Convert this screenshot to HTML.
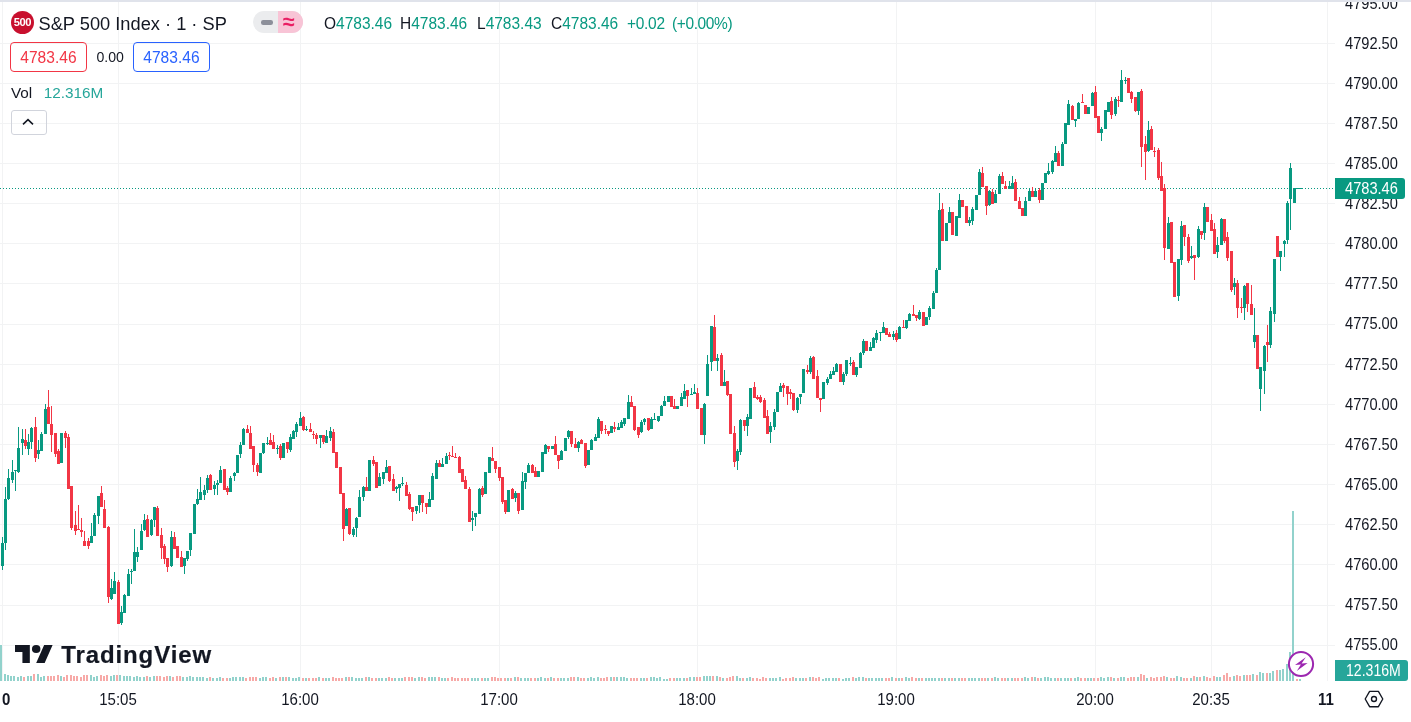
<!DOCTYPE html>
<html><head><meta charset="utf-8"><title>S&amp;P 500 Index</title>
<style>
html,body{margin:0;padding:0;background:#fff;}
body{width:1411px;height:722px;overflow:hidden;position:relative;font-family:"Liberation Sans",sans-serif;color:#131722;}
.abs{position:absolute;white-space:nowrap;}
#txt{position:absolute;left:0;top:0;width:1411px;height:722px;will-change:transform;}
.pl{position:absolute;left:1345px;height:20px;line-height:20px;font-size:16.2px;transform:scaleX(0.904);transform-origin:0 50%;white-space:nowrap;color:#131722;}
.tl{position:absolute;top:688.5px;width:60px;text-align:center;height:20px;line-height:20px;font-size:16.4px;transform:scaleX(0.917);white-space:nowrap;color:#131722;}
.b{font-weight:bold;}
.g{color:#089981;}
.ohlc{position:absolute;top:12.5px;height:20px;line-height:20px;font-size:16.2px;transform:scaleX(0.957);transform-origin:0 50%;white-space:nowrap;}
</style></head><body>
<svg width="1411" height="722" viewBox="0 0 1411 722" style="position:absolute;left:0;top:0" shape-rendering="crispEdges">
<rect x="0" y="43" width="1335" height="1" fill="#f2f3f4"/>
<rect x="0" y="83" width="1335" height="1" fill="#f2f3f4"/>
<rect x="0" y="123" width="1335" height="1" fill="#f2f3f4"/>
<rect x="0" y="163" width="1335" height="1" fill="#f2f3f4"/>
<rect x="0" y="203" width="1335" height="1" fill="#f2f3f4"/>
<rect x="0" y="243" width="1335" height="1" fill="#f2f3f4"/>
<rect x="0" y="283" width="1335" height="1" fill="#f2f3f4"/>
<rect x="0" y="324" width="1335" height="1" fill="#f2f3f4"/>
<rect x="0" y="364" width="1335" height="1" fill="#f2f3f4"/>
<rect x="0" y="404" width="1335" height="1" fill="#f2f3f4"/>
<rect x="0" y="444" width="1335" height="1" fill="#f2f3f4"/>
<rect x="0" y="484" width="1335" height="1" fill="#f2f3f4"/>
<rect x="0" y="524" width="1335" height="1" fill="#f2f3f4"/>
<rect x="0" y="564" width="1335" height="1" fill="#f2f3f4"/>
<rect x="0" y="605" width="1335" height="1" fill="#f2f3f4"/>
<rect x="0" y="645" width="1335" height="1" fill="#f2f3f4"/>
<rect x="2" y="2" width="1" height="679" fill="#f2f3f4"/>
<rect x="118" y="2" width="1" height="679" fill="#f2f3f4"/>
<rect x="300" y="2" width="1" height="679" fill="#f2f3f4"/>
<rect x="499" y="2" width="1" height="679" fill="#f2f3f4"/>
<rect x="697" y="2" width="1" height="679" fill="#f2f3f4"/>
<rect x="896" y="2" width="1" height="679" fill="#f2f3f4"/>
<rect x="1095" y="2" width="1" height="679" fill="#f2f3f4"/>
<rect x="1211" y="2" width="1" height="679" fill="#f2f3f4"/>
<rect x="1327" y="2" width="1" height="679" fill="#f2f3f4"/>
<rect x="0" y="645" width="2" height="36" fill="#92d2cc"/>
<rect x="4" y="674" width="2" height="7" fill="#92d2cc"/>
<rect x="7" y="675" width="2" height="6" fill="#92d2cc"/>
<rect x="10" y="676" width="2" height="5" fill="#92d2cc"/>
<rect x="13" y="676" width="2" height="5" fill="#92d2cc"/>
<rect x="17" y="677" width="2" height="4" fill="#92d2cc"/>
<rect x="20" y="676" width="2" height="5" fill="#92d2cc"/>
<rect x="23" y="677" width="2" height="4" fill="#f7a9a7"/>
<rect x="27" y="676" width="2" height="5" fill="#92d2cc"/>
<rect x="30" y="676" width="2" height="5" fill="#92d2cc"/>
<rect x="33" y="674" width="2" height="7" fill="#f7a9a7"/>
<rect x="37" y="674" width="2" height="7" fill="#92d2cc"/>
<rect x="40" y="677" width="2" height="4" fill="#92d2cc"/>
<rect x="43" y="676" width="2" height="5" fill="#92d2cc"/>
<rect x="47" y="676" width="2" height="5" fill="#f7a9a7"/>
<rect x="50" y="676" width="2" height="5" fill="#f7a9a7"/>
<rect x="53" y="676" width="2" height="5" fill="#f7a9a7"/>
<rect x="57" y="675" width="2" height="6" fill="#f7a9a7"/>
<rect x="60" y="676" width="2" height="5" fill="#92d2cc"/>
<rect x="63" y="677" width="2" height="4" fill="#f7a9a7"/>
<rect x="66" y="675" width="2" height="6" fill="#f7a9a7"/>
<rect x="70" y="675" width="2" height="6" fill="#f7a9a7"/>
<rect x="73" y="676" width="2" height="5" fill="#f7a9a7"/>
<rect x="76" y="676" width="2" height="5" fill="#f7a9a7"/>
<rect x="80" y="677" width="2" height="4" fill="#f7a9a7"/>
<rect x="83" y="675" width="2" height="6" fill="#f7a9a7"/>
<rect x="86" y="675" width="2" height="6" fill="#f7a9a7"/>
<rect x="90" y="675" width="2" height="6" fill="#92d2cc"/>
<rect x="93" y="677" width="2" height="4" fill="#92d2cc"/>
<rect x="96" y="676" width="2" height="5" fill="#92d2cc"/>
<rect x="100" y="675" width="2" height="6" fill="#f7a9a7"/>
<rect x="103" y="676" width="2" height="5" fill="#f7a9a7"/>
<rect x="106" y="675" width="2" height="6" fill="#f7a9a7"/>
<rect x="110" y="676" width="2" height="5" fill="#92d2cc"/>
<rect x="113" y="675" width="2" height="6" fill="#92d2cc"/>
<rect x="116" y="675" width="2" height="6" fill="#f7a9a7"/>
<rect x="119" y="675" width="2" height="6" fill="#92d2cc"/>
<rect x="123" y="676" width="2" height="5" fill="#92d2cc"/>
<rect x="126" y="676" width="2" height="5" fill="#92d2cc"/>
<rect x="129" y="676" width="2" height="5" fill="#92d2cc"/>
<rect x="133" y="677" width="2" height="4" fill="#92d2cc"/>
<rect x="136" y="676" width="2" height="5" fill="#92d2cc"/>
<rect x="139" y="677" width="2" height="4" fill="#92d2cc"/>
<rect x="143" y="677" width="2" height="4" fill="#92d2cc"/>
<rect x="146" y="676" width="2" height="5" fill="#f7a9a7"/>
<rect x="149" y="677" width="2" height="4" fill="#92d2cc"/>
<rect x="153" y="676" width="2" height="5" fill="#92d2cc"/>
<rect x="156" y="676" width="2" height="5" fill="#f7a9a7"/>
<rect x="159" y="676" width="2" height="5" fill="#f7a9a7"/>
<rect x="163" y="677" width="2" height="4" fill="#f7a9a7"/>
<rect x="166" y="676" width="2" height="5" fill="#f7a9a7"/>
<rect x="169" y="676" width="2" height="5" fill="#92d2cc"/>
<rect x="172" y="677" width="2" height="4" fill="#f7a9a7"/>
<rect x="176" y="676" width="2" height="5" fill="#f7a9a7"/>
<rect x="179" y="676" width="2" height="5" fill="#f7a9a7"/>
<rect x="182" y="677" width="2" height="4" fill="#92d2cc"/>
<rect x="186" y="677" width="2" height="4" fill="#92d2cc"/>
<rect x="189" y="676" width="2" height="5" fill="#92d2cc"/>
<rect x="192" y="677" width="2" height="4" fill="#92d2cc"/>
<rect x="196" y="677" width="2" height="4" fill="#92d2cc"/>
<rect x="199" y="677" width="2" height="4" fill="#92d2cc"/>
<rect x="202" y="677" width="2" height="4" fill="#92d2cc"/>
<rect x="206" y="678" width="2" height="3" fill="#92d2cc"/>
<rect x="209" y="677" width="2" height="4" fill="#f7a9a7"/>
<rect x="212" y="678" width="2" height="3" fill="#92d2cc"/>
<rect x="216" y="678" width="2" height="3" fill="#92d2cc"/>
<rect x="219" y="677" width="2" height="4" fill="#92d2cc"/>
<rect x="222" y="678" width="2" height="3" fill="#f7a9a7"/>
<rect x="226" y="678" width="2" height="3" fill="#f7a9a7"/>
<rect x="229" y="678" width="2" height="3" fill="#92d2cc"/>
<rect x="232" y="677" width="2" height="4" fill="#92d2cc"/>
<rect x="235" y="677" width="2" height="4" fill="#92d2cc"/>
<rect x="239" y="677" width="2" height="4" fill="#92d2cc"/>
<rect x="242" y="677" width="2" height="4" fill="#92d2cc"/>
<rect x="245" y="678" width="2" height="3" fill="#f7a9a7"/>
<rect x="249" y="677" width="2" height="4" fill="#f7a9a7"/>
<rect x="252" y="677" width="2" height="4" fill="#f7a9a7"/>
<rect x="255" y="677" width="2" height="4" fill="#f7a9a7"/>
<rect x="259" y="678" width="2" height="3" fill="#92d2cc"/>
<rect x="262" y="677" width="2" height="4" fill="#92d2cc"/>
<rect x="265" y="677" width="2" height="4" fill="#92d2cc"/>
<rect x="269" y="678" width="2" height="3" fill="#f7a9a7"/>
<rect x="272" y="677" width="2" height="4" fill="#f7a9a7"/>
<rect x="275" y="678" width="2" height="3" fill="#92d2cc"/>
<rect x="279" y="677" width="2" height="4" fill="#f7a9a7"/>
<rect x="282" y="677" width="2" height="4" fill="#92d2cc"/>
<rect x="285" y="677" width="2" height="4" fill="#f7a9a7"/>
<rect x="288" y="677" width="2" height="4" fill="#92d2cc"/>
<rect x="292" y="678" width="2" height="3" fill="#92d2cc"/>
<rect x="295" y="678" width="2" height="3" fill="#92d2cc"/>
<rect x="298" y="677" width="2" height="4" fill="#92d2cc"/>
<rect x="302" y="678" width="2" height="3" fill="#f7a9a7"/>
<rect x="305" y="678" width="2" height="3" fill="#92d2cc"/>
<rect x="308" y="678" width="2" height="3" fill="#f7a9a7"/>
<rect x="312" y="678" width="2" height="3" fill="#f7a9a7"/>
<rect x="315" y="678" width="2" height="3" fill="#f7a9a7"/>
<rect x="318" y="677" width="2" height="4" fill="#92d2cc"/>
<rect x="322" y="678" width="2" height="3" fill="#f7a9a7"/>
<rect x="325" y="678" width="2" height="3" fill="#92d2cc"/>
<rect x="328" y="678" width="2" height="3" fill="#92d2cc"/>
<rect x="332" y="677" width="2" height="4" fill="#f7a9a7"/>
<rect x="335" y="678" width="2" height="3" fill="#f7a9a7"/>
<rect x="338" y="678" width="2" height="3" fill="#f7a9a7"/>
<rect x="341" y="678" width="2" height="3" fill="#f7a9a7"/>
<rect x="345" y="677" width="2" height="4" fill="#92d2cc"/>
<rect x="348" y="677" width="2" height="4" fill="#f7a9a7"/>
<rect x="351" y="677" width="2" height="4" fill="#92d2cc"/>
<rect x="355" y="678" width="2" height="3" fill="#92d2cc"/>
<rect x="358" y="678" width="2" height="3" fill="#92d2cc"/>
<rect x="361" y="678" width="2" height="3" fill="#92d2cc"/>
<rect x="365" y="677" width="2" height="4" fill="#f7a9a7"/>
<rect x="368" y="677" width="2" height="4" fill="#92d2cc"/>
<rect x="371" y="678" width="2" height="3" fill="#f7a9a7"/>
<rect x="375" y="678" width="2" height="3" fill="#f7a9a7"/>
<rect x="378" y="678" width="2" height="3" fill="#92d2cc"/>
<rect x="381" y="678" width="2" height="3" fill="#92d2cc"/>
<rect x="385" y="678" width="2" height="3" fill="#92d2cc"/>
<rect x="388" y="677" width="2" height="4" fill="#f7a9a7"/>
<rect x="391" y="678" width="2" height="3" fill="#f7a9a7"/>
<rect x="394" y="678" width="2" height="3" fill="#92d2cc"/>
<rect x="398" y="678" width="2" height="3" fill="#92d2cc"/>
<rect x="401" y="678" width="2" height="3" fill="#92d2cc"/>
<rect x="404" y="677" width="2" height="4" fill="#f7a9a7"/>
<rect x="408" y="677" width="2" height="4" fill="#f7a9a7"/>
<rect x="411" y="677" width="2" height="4" fill="#f7a9a7"/>
<rect x="414" y="678" width="2" height="3" fill="#92d2cc"/>
<rect x="418" y="677" width="2" height="4" fill="#92d2cc"/>
<rect x="421" y="677" width="2" height="4" fill="#f7a9a7"/>
<rect x="424" y="678" width="2" height="3" fill="#f7a9a7"/>
<rect x="428" y="677" width="2" height="4" fill="#92d2cc"/>
<rect x="431" y="677" width="2" height="4" fill="#92d2cc"/>
<rect x="434" y="677" width="2" height="4" fill="#92d2cc"/>
<rect x="438" y="677" width="2" height="4" fill="#f7a9a7"/>
<rect x="441" y="678" width="2" height="3" fill="#92d2cc"/>
<rect x="444" y="678" width="2" height="3" fill="#92d2cc"/>
<rect x="447" y="678" width="2" height="3" fill="#f7a9a7"/>
<rect x="451" y="677" width="2" height="4" fill="#f7a9a7"/>
<rect x="454" y="678" width="2" height="3" fill="#f7a9a7"/>
<rect x="457" y="678" width="2" height="3" fill="#f7a9a7"/>
<rect x="461" y="678" width="2" height="3" fill="#f7a9a7"/>
<rect x="464" y="678" width="2" height="3" fill="#f7a9a7"/>
<rect x="467" y="678" width="2" height="3" fill="#f7a9a7"/>
<rect x="471" y="678" width="2" height="3" fill="#92d2cc"/>
<rect x="474" y="678" width="2" height="3" fill="#92d2cc"/>
<rect x="477" y="678" width="2" height="3" fill="#92d2cc"/>
<rect x="481" y="678" width="2" height="3" fill="#f7a9a7"/>
<rect x="484" y="678" width="2" height="3" fill="#92d2cc"/>
<rect x="487" y="678" width="2" height="3" fill="#92d2cc"/>
<rect x="491" y="677" width="2" height="4" fill="#f7a9a7"/>
<rect x="494" y="677" width="2" height="4" fill="#f7a9a7"/>
<rect x="497" y="678" width="2" height="3" fill="#f7a9a7"/>
<rect x="500" y="678" width="2" height="3" fill="#f7a9a7"/>
<rect x="504" y="678" width="2" height="3" fill="#f7a9a7"/>
<rect x="507" y="678" width="2" height="3" fill="#92d2cc"/>
<rect x="510" y="678" width="2" height="3" fill="#f7a9a7"/>
<rect x="514" y="677" width="2" height="4" fill="#92d2cc"/>
<rect x="517" y="677" width="2" height="4" fill="#f7a9a7"/>
<rect x="520" y="678" width="2" height="3" fill="#92d2cc"/>
<rect x="524" y="678" width="2" height="3" fill="#92d2cc"/>
<rect x="527" y="678" width="2" height="3" fill="#92d2cc"/>
<rect x="530" y="678" width="2" height="3" fill="#f7a9a7"/>
<rect x="534" y="678" width="2" height="3" fill="#f7a9a7"/>
<rect x="537" y="678" width="2" height="3" fill="#92d2cc"/>
<rect x="540" y="677" width="2" height="4" fill="#92d2cc"/>
<rect x="544" y="678" width="2" height="3" fill="#92d2cc"/>
<rect x="547" y="678" width="2" height="3" fill="#f7a9a7"/>
<rect x="550" y="677" width="2" height="4" fill="#92d2cc"/>
<rect x="553" y="678" width="2" height="3" fill="#f7a9a7"/>
<rect x="557" y="678" width="2" height="3" fill="#f7a9a7"/>
<rect x="560" y="678" width="2" height="3" fill="#92d2cc"/>
<rect x="563" y="678" width="2" height="3" fill="#92d2cc"/>
<rect x="567" y="678" width="2" height="3" fill="#92d2cc"/>
<rect x="570" y="677" width="2" height="4" fill="#f7a9a7"/>
<rect x="573" y="677" width="2" height="4" fill="#f7a9a7"/>
<rect x="577" y="677" width="2" height="4" fill="#92d2cc"/>
<rect x="580" y="678" width="2" height="3" fill="#f7a9a7"/>
<rect x="583" y="678" width="2" height="3" fill="#f7a9a7"/>
<rect x="587" y="678" width="2" height="3" fill="#92d2cc"/>
<rect x="590" y="677" width="2" height="4" fill="#92d2cc"/>
<rect x="593" y="678" width="2" height="3" fill="#92d2cc"/>
<rect x="597" y="677" width="2" height="4" fill="#92d2cc"/>
<rect x="600" y="678" width="2" height="3" fill="#f7a9a7"/>
<rect x="603" y="678" width="2" height="3" fill="#f7a9a7"/>
<rect x="606" y="677" width="2" height="4" fill="#f7a9a7"/>
<rect x="610" y="677" width="2" height="4" fill="#92d2cc"/>
<rect x="613" y="677" width="2" height="4" fill="#f7a9a7"/>
<rect x="616" y="677" width="2" height="4" fill="#92d2cc"/>
<rect x="620" y="677" width="2" height="4" fill="#92d2cc"/>
<rect x="623" y="677" width="2" height="4" fill="#92d2cc"/>
<rect x="626" y="678" width="2" height="3" fill="#92d2cc"/>
<rect x="630" y="678" width="2" height="3" fill="#f7a9a7"/>
<rect x="633" y="678" width="2" height="3" fill="#f7a9a7"/>
<rect x="636" y="678" width="2" height="3" fill="#f7a9a7"/>
<rect x="640" y="678" width="2" height="3" fill="#92d2cc"/>
<rect x="643" y="678" width="2" height="3" fill="#92d2cc"/>
<rect x="646" y="678" width="2" height="3" fill="#f7a9a7"/>
<rect x="650" y="677" width="2" height="4" fill="#92d2cc"/>
<rect x="653" y="677" width="2" height="4" fill="#92d2cc"/>
<rect x="656" y="678" width="2" height="3" fill="#92d2cc"/>
<rect x="659" y="677" width="2" height="4" fill="#92d2cc"/>
<rect x="663" y="679" width="2" height="2" fill="#92d2cc"/>
<rect x="666" y="679" width="2" height="2" fill="#92d2cc"/>
<rect x="669" y="678" width="2" height="3" fill="#f7a9a7"/>
<rect x="673" y="678" width="2" height="3" fill="#f7a9a7"/>
<rect x="676" y="678" width="2" height="3" fill="#92d2cc"/>
<rect x="679" y="678" width="2" height="3" fill="#92d2cc"/>
<rect x="683" y="678" width="2" height="3" fill="#92d2cc"/>
<rect x="686" y="678" width="2" height="3" fill="#f7a9a7"/>
<rect x="689" y="677" width="2" height="4" fill="#92d2cc"/>
<rect x="693" y="677" width="2" height="4" fill="#92d2cc"/>
<rect x="696" y="677" width="2" height="4" fill="#f7a9a7"/>
<rect x="699" y="677" width="2" height="4" fill="#f7a9a7"/>
<rect x="703" y="676" width="2" height="5" fill="#92d2cc"/>
<rect x="706" y="676" width="2" height="5" fill="#92d2cc"/>
<rect x="709" y="676" width="2" height="5" fill="#92d2cc"/>
<rect x="712" y="676" width="2" height="5" fill="#f7a9a7"/>
<rect x="716" y="676" width="2" height="5" fill="#92d2cc"/>
<rect x="719" y="677" width="2" height="4" fill="#f7a9a7"/>
<rect x="722" y="678" width="2" height="3" fill="#92d2cc"/>
<rect x="726" y="678" width="2" height="3" fill="#f7a9a7"/>
<rect x="729" y="677" width="2" height="4" fill="#f7a9a7"/>
<rect x="732" y="676" width="2" height="5" fill="#f7a9a7"/>
<rect x="736" y="676" width="2" height="5" fill="#92d2cc"/>
<rect x="739" y="678" width="2" height="3" fill="#92d2cc"/>
<rect x="742" y="678" width="2" height="3" fill="#f7a9a7"/>
<rect x="746" y="678" width="2" height="3" fill="#92d2cc"/>
<rect x="749" y="677" width="2" height="4" fill="#92d2cc"/>
<rect x="752" y="678" width="2" height="3" fill="#f7a9a7"/>
<rect x="756" y="678" width="2" height="3" fill="#f7a9a7"/>
<rect x="759" y="679" width="2" height="2" fill="#f7a9a7"/>
<rect x="762" y="677" width="2" height="4" fill="#f7a9a7"/>
<rect x="765" y="678" width="2" height="3" fill="#f7a9a7"/>
<rect x="769" y="678" width="2" height="3" fill="#92d2cc"/>
<rect x="772" y="678" width="2" height="3" fill="#92d2cc"/>
<rect x="775" y="678" width="2" height="3" fill="#92d2cc"/>
<rect x="779" y="677" width="2" height="4" fill="#92d2cc"/>
<rect x="782" y="679" width="2" height="2" fill="#f7a9a7"/>
<rect x="785" y="678" width="2" height="3" fill="#f7a9a7"/>
<rect x="789" y="678" width="2" height="3" fill="#f7a9a7"/>
<rect x="792" y="677" width="2" height="4" fill="#f7a9a7"/>
<rect x="795" y="678" width="2" height="3" fill="#92d2cc"/>
<rect x="799" y="678" width="2" height="3" fill="#92d2cc"/>
<rect x="802" y="678" width="2" height="3" fill="#92d2cc"/>
<rect x="805" y="678" width="2" height="3" fill="#f7a9a7"/>
<rect x="809" y="677" width="2" height="4" fill="#92d2cc"/>
<rect x="812" y="677" width="2" height="4" fill="#f7a9a7"/>
<rect x="815" y="678" width="2" height="3" fill="#f7a9a7"/>
<rect x="818" y="677" width="2" height="4" fill="#f7a9a7"/>
<rect x="822" y="679" width="2" height="2" fill="#92d2cc"/>
<rect x="825" y="678" width="2" height="3" fill="#92d2cc"/>
<rect x="828" y="678" width="2" height="3" fill="#92d2cc"/>
<rect x="832" y="678" width="2" height="3" fill="#92d2cc"/>
<rect x="835" y="678" width="2" height="3" fill="#92d2cc"/>
<rect x="838" y="678" width="2" height="3" fill="#f7a9a7"/>
<rect x="842" y="679" width="2" height="2" fill="#92d2cc"/>
<rect x="845" y="678" width="2" height="3" fill="#92d2cc"/>
<rect x="848" y="678" width="2" height="3" fill="#92d2cc"/>
<rect x="852" y="677" width="2" height="4" fill="#f7a9a7"/>
<rect x="855" y="678" width="2" height="3" fill="#92d2cc"/>
<rect x="858" y="677" width="2" height="4" fill="#92d2cc"/>
<rect x="862" y="677" width="2" height="4" fill="#92d2cc"/>
<rect x="865" y="678" width="2" height="3" fill="#f7a9a7"/>
<rect x="868" y="678" width="2" height="3" fill="#92d2cc"/>
<rect x="871" y="678" width="2" height="3" fill="#92d2cc"/>
<rect x="875" y="678" width="2" height="3" fill="#92d2cc"/>
<rect x="878" y="678" width="2" height="3" fill="#92d2cc"/>
<rect x="881" y="678" width="2" height="3" fill="#92d2cc"/>
<rect x="885" y="678" width="2" height="3" fill="#f7a9a7"/>
<rect x="888" y="678" width="2" height="3" fill="#f7a9a7"/>
<rect x="891" y="677" width="2" height="4" fill="#92d2cc"/>
<rect x="895" y="678" width="2" height="3" fill="#f7a9a7"/>
<rect x="898" y="678" width="2" height="3" fill="#92d2cc"/>
<rect x="901" y="678" width="2" height="3" fill="#f7a9a7"/>
<rect x="905" y="677" width="2" height="4" fill="#92d2cc"/>
<rect x="908" y="678" width="2" height="3" fill="#92d2cc"/>
<rect x="911" y="677" width="2" height="4" fill="#f7a9a7"/>
<rect x="915" y="678" width="2" height="3" fill="#f7a9a7"/>
<rect x="918" y="678" width="2" height="3" fill="#92d2cc"/>
<rect x="921" y="678" width="2" height="3" fill="#f7a9a7"/>
<rect x="925" y="678" width="2" height="3" fill="#92d2cc"/>
<rect x="928" y="678" width="2" height="3" fill="#92d2cc"/>
<rect x="931" y="678" width="2" height="3" fill="#92d2cc"/>
<rect x="934" y="678" width="2" height="3" fill="#92d2cc"/>
<rect x="938" y="678" width="2" height="3" fill="#92d2cc"/>
<rect x="941" y="678" width="2" height="3" fill="#f7a9a7"/>
<rect x="944" y="678" width="2" height="3" fill="#92d2cc"/>
<rect x="948" y="678" width="2" height="3" fill="#92d2cc"/>
<rect x="951" y="678" width="2" height="3" fill="#f7a9a7"/>
<rect x="954" y="678" width="2" height="3" fill="#92d2cc"/>
<rect x="958" y="678" width="2" height="3" fill="#92d2cc"/>
<rect x="961" y="678" width="2" height="3" fill="#f7a9a7"/>
<rect x="964" y="678" width="2" height="3" fill="#f7a9a7"/>
<rect x="968" y="678" width="2" height="3" fill="#92d2cc"/>
<rect x="971" y="678" width="2" height="3" fill="#92d2cc"/>
<rect x="974" y="678" width="2" height="3" fill="#92d2cc"/>
<rect x="978" y="678" width="2" height="3" fill="#92d2cc"/>
<rect x="981" y="678" width="2" height="3" fill="#f7a9a7"/>
<rect x="984" y="678" width="2" height="3" fill="#f7a9a7"/>
<rect x="987" y="678" width="2" height="3" fill="#92d2cc"/>
<rect x="991" y="678" width="2" height="3" fill="#f7a9a7"/>
<rect x="994" y="677" width="2" height="4" fill="#92d2cc"/>
<rect x="997" y="678" width="2" height="3" fill="#92d2cc"/>
<rect x="1001" y="678" width="2" height="3" fill="#f7a9a7"/>
<rect x="1004" y="678" width="2" height="3" fill="#f7a9a7"/>
<rect x="1007" y="678" width="2" height="3" fill="#92d2cc"/>
<rect x="1011" y="678" width="2" height="3" fill="#92d2cc"/>
<rect x="1014" y="678" width="2" height="3" fill="#f7a9a7"/>
<rect x="1017" y="678" width="2" height="3" fill="#f7a9a7"/>
<rect x="1021" y="678" width="2" height="3" fill="#f7a9a7"/>
<rect x="1024" y="677" width="2" height="4" fill="#92d2cc"/>
<rect x="1027" y="678" width="2" height="3" fill="#92d2cc"/>
<rect x="1031" y="677" width="2" height="4" fill="#f7a9a7"/>
<rect x="1034" y="677" width="2" height="4" fill="#92d2cc"/>
<rect x="1037" y="678" width="2" height="3" fill="#f7a9a7"/>
<rect x="1040" y="678" width="2" height="3" fill="#92d2cc"/>
<rect x="1044" y="677" width="2" height="4" fill="#92d2cc"/>
<rect x="1047" y="677" width="2" height="4" fill="#92d2cc"/>
<rect x="1050" y="678" width="2" height="3" fill="#92d2cc"/>
<rect x="1054" y="678" width="2" height="3" fill="#92d2cc"/>
<rect x="1057" y="678" width="2" height="3" fill="#f7a9a7"/>
<rect x="1060" y="678" width="2" height="3" fill="#92d2cc"/>
<rect x="1064" y="678" width="2" height="3" fill="#92d2cc"/>
<rect x="1067" y="678" width="2" height="3" fill="#92d2cc"/>
<rect x="1070" y="678" width="2" height="3" fill="#f7a9a7"/>
<rect x="1074" y="678" width="2" height="3" fill="#92d2cc"/>
<rect x="1077" y="677" width="2" height="4" fill="#92d2cc"/>
<rect x="1080" y="678" width="2" height="3" fill="#f7a9a7"/>
<rect x="1084" y="678" width="2" height="3" fill="#f7a9a7"/>
<rect x="1087" y="678" width="2" height="3" fill="#92d2cc"/>
<rect x="1090" y="678" width="2" height="3" fill="#92d2cc"/>
<rect x="1093" y="678" width="2" height="3" fill="#f7a9a7"/>
<rect x="1097" y="678" width="2" height="3" fill="#f7a9a7"/>
<rect x="1100" y="677" width="2" height="4" fill="#92d2cc"/>
<rect x="1103" y="678" width="2" height="3" fill="#92d2cc"/>
<rect x="1107" y="677" width="2" height="4" fill="#92d2cc"/>
<rect x="1110" y="677" width="2" height="4" fill="#f7a9a7"/>
<rect x="1113" y="678" width="2" height="3" fill="#92d2cc"/>
<rect x="1117" y="678" width="2" height="3" fill="#f7a9a7"/>
<rect x="1120" y="677" width="2" height="4" fill="#92d2cc"/>
<rect x="1123" y="677" width="2" height="4" fill="#92d2cc"/>
<rect x="1127" y="678" width="2" height="3" fill="#f7a9a7"/>
<rect x="1130" y="677" width="2" height="4" fill="#f7a9a7"/>
<rect x="1133" y="677" width="2" height="4" fill="#f7a9a7"/>
<rect x="1137" y="677" width="2" height="4" fill="#92d2cc"/>
<rect x="1140" y="674" width="2" height="7" fill="#f7a9a7"/>
<rect x="1143" y="675" width="2" height="6" fill="#f7a9a7"/>
<rect x="1146" y="678" width="2" height="3" fill="#92d2cc"/>
<rect x="1150" y="677" width="2" height="4" fill="#f7a9a7"/>
<rect x="1153" y="678" width="2" height="3" fill="#f7a9a7"/>
<rect x="1156" y="677" width="2" height="4" fill="#f7a9a7"/>
<rect x="1160" y="677" width="2" height="4" fill="#f7a9a7"/>
<rect x="1163" y="676" width="2" height="5" fill="#f7a9a7"/>
<rect x="1166" y="677" width="2" height="4" fill="#92d2cc"/>
<rect x="1170" y="678" width="2" height="3" fill="#f7a9a7"/>
<rect x="1173" y="678" width="2" height="3" fill="#f7a9a7"/>
<rect x="1176" y="676" width="2" height="5" fill="#92d2cc"/>
<rect x="1180" y="677" width="2" height="4" fill="#92d2cc"/>
<rect x="1183" y="678" width="2" height="3" fill="#f7a9a7"/>
<rect x="1186" y="678" width="2" height="3" fill="#f7a9a7"/>
<rect x="1190" y="678" width="2" height="3" fill="#92d2cc"/>
<rect x="1193" y="676" width="2" height="5" fill="#f7a9a7"/>
<rect x="1196" y="677" width="2" height="4" fill="#92d2cc"/>
<rect x="1199" y="677" width="2" height="4" fill="#f7a9a7"/>
<rect x="1203" y="676" width="2" height="5" fill="#92d2cc"/>
<rect x="1206" y="677" width="2" height="4" fill="#f7a9a7"/>
<rect x="1209" y="678" width="2" height="3" fill="#f7a9a7"/>
<rect x="1213" y="676" width="2" height="5" fill="#f7a9a7"/>
<rect x="1216" y="677" width="2" height="4" fill="#92d2cc"/>
<rect x="1219" y="677" width="2" height="4" fill="#92d2cc"/>
<rect x="1223" y="675" width="2" height="6" fill="#f7a9a7"/>
<rect x="1226" y="673" width="2" height="8" fill="#f7a9a7"/>
<rect x="1229" y="677" width="2" height="4" fill="#f7a9a7"/>
<rect x="1233" y="676" width="2" height="5" fill="#92d2cc"/>
<rect x="1236" y="675" width="2" height="6" fill="#f7a9a7"/>
<rect x="1239" y="676" width="2" height="5" fill="#f7a9a7"/>
<rect x="1243" y="675" width="2" height="6" fill="#92d2cc"/>
<rect x="1246" y="675" width="2" height="6" fill="#f7a9a7"/>
<rect x="1249" y="675" width="2" height="6" fill="#f7a9a7"/>
<rect x="1252" y="674" width="2" height="7" fill="#92d2cc"/>
<rect x="1256" y="675" width="2" height="6" fill="#f7a9a7"/>
<rect x="1259" y="672" width="2" height="9" fill="#92d2cc"/>
<rect x="1262" y="673" width="2" height="8" fill="#92d2cc"/>
<rect x="1266" y="673" width="2" height="8" fill="#f7a9a7"/>
<rect x="1269" y="673" width="2" height="8" fill="#92d2cc"/>
<rect x="1272" y="671" width="2" height="10" fill="#92d2cc"/>
<rect x="1276" y="670" width="2" height="11" fill="#f7a9a7"/>
<rect x="1279" y="670" width="2" height="11" fill="#92d2cc"/>
<rect x="1282" y="669" width="2" height="12" fill="#92d2cc"/>
<rect x="1286" y="664" width="2" height="17" fill="#92d2cc"/>
<rect x="1289" y="652" width="2" height="29" fill="#92d2cc"/>
<rect x="1292" y="511" width="2" height="170" fill="#92d2cc"/>
<rect x="1296" y="679" width="2" height="2" fill="#f7a9a7"/>
<rect x="1299" y="679" width="2" height="2" fill="#92d2cc"/>
<line x1="0" y1="188.5" x2="1335" y2="188.5" stroke="#089981" stroke-width="1" stroke-dasharray="1 2"/>
<rect x="2" y="537" width="1" height="33" fill="#089981"/>
<rect x="1" y="543" width="3" height="23" fill="#089981"/>
<rect x="5" y="487" width="1" height="63" fill="#089981"/>
<rect x="4" y="499" width="3" height="44" fill="#089981"/>
<rect x="8" y="469" width="1" height="31" fill="#089981"/>
<rect x="7" y="478" width="3" height="21" fill="#089981"/>
<rect x="12" y="460" width="1" height="23" fill="#089981"/>
<rect x="11" y="472" width="3" height="8" fill="#089981"/>
<rect x="15" y="470" width="1" height="21" fill="#089981"/>
<rect x="14" y="470" width="3" height="1" fill="#089981"/>
<rect x="18" y="427" width="1" height="46" fill="#089981"/>
<rect x="17" y="448" width="3" height="24" fill="#089981"/>
<rect x="22" y="429" width="1" height="26" fill="#089981"/>
<rect x="21" y="439" width="3" height="4" fill="#089981"/>
<rect x="25" y="429" width="1" height="20" fill="#f23645"/>
<rect x="24" y="440" width="3" height="6" fill="#f23645"/>
<rect x="28" y="434" width="1" height="21" fill="#089981"/>
<rect x="27" y="442" width="3" height="7" fill="#089981"/>
<rect x="31" y="427" width="1" height="22" fill="#089981"/>
<rect x="30" y="428" width="3" height="14" fill="#089981"/>
<rect x="35" y="417" width="1" height="45" fill="#f23645"/>
<rect x="34" y="427" width="3" height="31" fill="#f23645"/>
<rect x="38" y="440" width="1" height="19" fill="#089981"/>
<rect x="37" y="450" width="3" height="4" fill="#089981"/>
<rect x="41" y="432" width="1" height="19" fill="#089981"/>
<rect x="40" y="434" width="3" height="17" fill="#089981"/>
<rect x="45" y="404" width="1" height="30" fill="#089981"/>
<rect x="44" y="409" width="3" height="25" fill="#089981"/>
<rect x="48" y="390" width="1" height="34" fill="#f23645"/>
<rect x="47" y="407" width="3" height="17" fill="#f23645"/>
<rect x="51" y="406" width="1" height="46" fill="#f23645"/>
<rect x="50" y="424" width="3" height="11" fill="#f23645"/>
<rect x="55" y="433" width="1" height="24" fill="#f23645"/>
<rect x="54" y="433" width="3" height="21" fill="#f23645"/>
<rect x="58" y="449" width="1" height="15" fill="#f23645"/>
<rect x="57" y="451" width="3" height="13" fill="#f23645"/>
<rect x="60" y="433" width="3" height="30" fill="#089981"/>
<rect x="65" y="431" width="1" height="17" fill="#f23645"/>
<rect x="64" y="433" width="3" height="5" fill="#f23645"/>
<rect x="68" y="434" width="1" height="55" fill="#f23645"/>
<rect x="67" y="437" width="3" height="52" fill="#f23645"/>
<rect x="71" y="486" width="1" height="44" fill="#f23645"/>
<rect x="70" y="486" width="3" height="42" fill="#f23645"/>
<rect x="75" y="511" width="1" height="24" fill="#f23645"/>
<rect x="74" y="525" width="3" height="6" fill="#f23645"/>
<rect x="78" y="505" width="1" height="25" fill="#f23645"/>
<rect x="77" y="529" width="3" height="1" fill="#f23645"/>
<rect x="81" y="518" width="1" height="19" fill="#f23645"/>
<rect x="80" y="530" width="3" height="2" fill="#f23645"/>
<rect x="84" y="531" width="1" height="15" fill="#f23645"/>
<rect x="83" y="541" width="3" height="5" fill="#f23645"/>
<rect x="88" y="538" width="1" height="11" fill="#f23645"/>
<rect x="87" y="541" width="3" height="5" fill="#f23645"/>
<rect x="91" y="523" width="1" height="20" fill="#089981"/>
<rect x="90" y="536" width="3" height="7" fill="#089981"/>
<rect x="94" y="513" width="1" height="23" fill="#089981"/>
<rect x="93" y="515" width="3" height="21" fill="#089981"/>
<rect x="98" y="496" width="1" height="28" fill="#089981"/>
<rect x="97" y="496" width="3" height="20" fill="#089981"/>
<rect x="101" y="486" width="1" height="21" fill="#f23645"/>
<rect x="100" y="493" width="3" height="14" fill="#f23645"/>
<rect x="104" y="500" width="1" height="28" fill="#f23645"/>
<rect x="103" y="509" width="3" height="19" fill="#f23645"/>
<rect x="108" y="526" width="1" height="77" fill="#f23645"/>
<rect x="107" y="527" width="3" height="70" fill="#f23645"/>
<rect x="111" y="579" width="1" height="21" fill="#089981"/>
<rect x="110" y="588" width="3" height="11" fill="#089981"/>
<rect x="114" y="572" width="1" height="22" fill="#089981"/>
<rect x="113" y="581" width="3" height="13" fill="#089981"/>
<rect x="118" y="580" width="1" height="44" fill="#f23645"/>
<rect x="117" y="582" width="3" height="42" fill="#f23645"/>
<rect x="121" y="606" width="1" height="19" fill="#089981"/>
<rect x="120" y="612" width="3" height="11" fill="#089981"/>
<rect x="124" y="594" width="1" height="19" fill="#089981"/>
<rect x="123" y="595" width="3" height="18" fill="#089981"/>
<rect x="128" y="569" width="1" height="27" fill="#089981"/>
<rect x="127" y="574" width="3" height="22" fill="#089981"/>
<rect x="131" y="569" width="1" height="15" fill="#089981"/>
<rect x="130" y="571" width="3" height="1" fill="#089981"/>
<rect x="134" y="529" width="1" height="42" fill="#089981"/>
<rect x="133" y="552" width="3" height="19" fill="#089981"/>
<rect x="137" y="547" width="1" height="15" fill="#089981"/>
<rect x="136" y="552" width="3" height="5" fill="#089981"/>
<rect x="141" y="524" width="1" height="26" fill="#089981"/>
<rect x="140" y="531" width="3" height="19" fill="#089981"/>
<rect x="144" y="514" width="1" height="17" fill="#089981"/>
<rect x="143" y="520" width="3" height="10" fill="#089981"/>
<rect x="147" y="515" width="1" height="22" fill="#f23645"/>
<rect x="146" y="519" width="3" height="18" fill="#f23645"/>
<rect x="151" y="519" width="1" height="17" fill="#089981"/>
<rect x="150" y="520" width="3" height="15" fill="#089981"/>
<rect x="154" y="507" width="1" height="20" fill="#089981"/>
<rect x="153" y="507" width="3" height="13" fill="#089981"/>
<rect x="157" y="506" width="1" height="30" fill="#f23645"/>
<rect x="156" y="508" width="3" height="28" fill="#f23645"/>
<rect x="161" y="528" width="1" height="31" fill="#f23645"/>
<rect x="160" y="535" width="3" height="13" fill="#f23645"/>
<rect x="164" y="544" width="1" height="20" fill="#f23645"/>
<rect x="163" y="546" width="3" height="13" fill="#f23645"/>
<rect x="167" y="558" width="1" height="14" fill="#f23645"/>
<rect x="166" y="558" width="3" height="9" fill="#f23645"/>
<rect x="171" y="531" width="1" height="36" fill="#089981"/>
<rect x="170" y="537" width="3" height="29" fill="#089981"/>
<rect x="174" y="532" width="1" height="17" fill="#f23645"/>
<rect x="173" y="537" width="3" height="12" fill="#f23645"/>
<rect x="176" y="546" width="3" height="12" fill="#f23645"/>
<rect x="181" y="551" width="1" height="16" fill="#f23645"/>
<rect x="180" y="557" width="3" height="10" fill="#f23645"/>
<rect x="184" y="558" width="1" height="16" fill="#089981"/>
<rect x="183" y="558" width="3" height="8" fill="#089981"/>
<rect x="187" y="551" width="1" height="10" fill="#089981"/>
<rect x="186" y="551" width="3" height="8" fill="#089981"/>
<rect x="190" y="533" width="1" height="23" fill="#089981"/>
<rect x="189" y="533" width="3" height="17" fill="#089981"/>
<rect x="193" y="504" width="3" height="30" fill="#089981"/>
<rect x="197" y="489" width="1" height="16" fill="#089981"/>
<rect x="196" y="499" width="3" height="5" fill="#089981"/>
<rect x="200" y="477" width="1" height="23" fill="#089981"/>
<rect x="199" y="492" width="3" height="8" fill="#089981"/>
<rect x="204" y="485" width="1" height="15" fill="#089981"/>
<rect x="203" y="490" width="3" height="5" fill="#089981"/>
<rect x="207" y="475" width="1" height="18" fill="#089981"/>
<rect x="206" y="478" width="3" height="12" fill="#089981"/>
<rect x="210" y="474" width="1" height="16" fill="#f23645"/>
<rect x="209" y="475" width="3" height="15" fill="#f23645"/>
<rect x="214" y="481" width="1" height="14" fill="#089981"/>
<rect x="213" y="485" width="3" height="4" fill="#089981"/>
<rect x="217" y="480" width="1" height="15" fill="#089981"/>
<rect x="216" y="483" width="3" height="2" fill="#089981"/>
<rect x="220" y="466" width="1" height="17" fill="#089981"/>
<rect x="219" y="470" width="3" height="13" fill="#089981"/>
<rect x="223" y="469" width="3" height="21" fill="#f23645"/>
<rect x="227" y="486" width="1" height="9" fill="#f23645"/>
<rect x="226" y="488" width="3" height="4" fill="#f23645"/>
<rect x="230" y="476" width="1" height="16" fill="#089981"/>
<rect x="229" y="478" width="3" height="14" fill="#089981"/>
<rect x="234" y="472" width="1" height="9" fill="#089981"/>
<rect x="233" y="473" width="3" height="3" fill="#089981"/>
<rect x="236" y="455" width="3" height="18" fill="#089981"/>
<rect x="240" y="442" width="1" height="16" fill="#089981"/>
<rect x="239" y="445" width="3" height="9" fill="#089981"/>
<rect x="243" y="428" width="1" height="17" fill="#089981"/>
<rect x="242" y="429" width="3" height="16" fill="#089981"/>
<rect x="247" y="425" width="1" height="8" fill="#f23645"/>
<rect x="246" y="429" width="3" height="4" fill="#f23645"/>
<rect x="250" y="426" width="1" height="23" fill="#f23645"/>
<rect x="249" y="433" width="3" height="16" fill="#f23645"/>
<rect x="253" y="446" width="1" height="26" fill="#f23645"/>
<rect x="252" y="446" width="3" height="19" fill="#f23645"/>
<rect x="257" y="463" width="1" height="13" fill="#f23645"/>
<rect x="256" y="465" width="3" height="7" fill="#f23645"/>
<rect x="259" y="453" width="3" height="20" fill="#089981"/>
<rect x="263" y="443" width="1" height="11" fill="#089981"/>
<rect x="262" y="443" width="3" height="10" fill="#089981"/>
<rect x="267" y="437" width="1" height="8" fill="#089981"/>
<rect x="266" y="443" width="3" height="1" fill="#089981"/>
<rect x="270" y="433" width="1" height="12" fill="#f23645"/>
<rect x="269" y="440" width="3" height="5" fill="#f23645"/>
<rect x="273" y="435" width="1" height="14" fill="#f23645"/>
<rect x="272" y="442" width="3" height="7" fill="#f23645"/>
<rect x="277" y="445" width="1" height="9" fill="#089981"/>
<rect x="276" y="448" width="3" height="1" fill="#089981"/>
<rect x="280" y="444" width="1" height="16" fill="#f23645"/>
<rect x="279" y="446" width="3" height="12" fill="#f23645"/>
<rect x="282" y="443" width="3" height="15" fill="#089981"/>
<rect x="287" y="442" width="1" height="11" fill="#f23645"/>
<rect x="286" y="442" width="3" height="7" fill="#f23645"/>
<rect x="290" y="434" width="1" height="18" fill="#089981"/>
<rect x="289" y="437" width="3" height="13" fill="#089981"/>
<rect x="293" y="430" width="1" height="9" fill="#089981"/>
<rect x="292" y="431" width="3" height="8" fill="#089981"/>
<rect x="296" y="422" width="1" height="15" fill="#089981"/>
<rect x="295" y="424" width="3" height="8" fill="#089981"/>
<rect x="300" y="412" width="1" height="14" fill="#089981"/>
<rect x="299" y="418" width="3" height="8" fill="#089981"/>
<rect x="303" y="416" width="1" height="15" fill="#f23645"/>
<rect x="302" y="417" width="3" height="13" fill="#f23645"/>
<rect x="306" y="426" width="1" height="5" fill="#089981"/>
<rect x="305" y="429" width="3" height="1" fill="#089981"/>
<rect x="310" y="423" width="1" height="9" fill="#f23645"/>
<rect x="309" y="429" width="3" height="3" fill="#f23645"/>
<rect x="313" y="431" width="1" height="8" fill="#f23645"/>
<rect x="312" y="434" width="3" height="1" fill="#f23645"/>
<rect x="316" y="433" width="1" height="11" fill="#f23645"/>
<rect x="315" y="435" width="3" height="4" fill="#f23645"/>
<rect x="320" y="435" width="1" height="13" fill="#089981"/>
<rect x="319" y="435" width="3" height="3" fill="#089981"/>
<rect x="323" y="435" width="1" height="9" fill="#f23645"/>
<rect x="322" y="435" width="3" height="7" fill="#f23645"/>
<rect x="326" y="430" width="1" height="13" fill="#089981"/>
<rect x="325" y="436" width="3" height="7" fill="#089981"/>
<rect x="330" y="427" width="1" height="14" fill="#089981"/>
<rect x="329" y="431" width="3" height="7" fill="#089981"/>
<rect x="333" y="429" width="1" height="24" fill="#f23645"/>
<rect x="332" y="432" width="3" height="21" fill="#f23645"/>
<rect x="335" y="452" width="3" height="16" fill="#f23645"/>
<rect x="339" y="467" width="3" height="27" fill="#f23645"/>
<rect x="343" y="493" width="1" height="48" fill="#f23645"/>
<rect x="342" y="493" width="3" height="36" fill="#f23645"/>
<rect x="346" y="508" width="1" height="18" fill="#089981"/>
<rect x="345" y="509" width="3" height="17" fill="#089981"/>
<rect x="349" y="508" width="1" height="27" fill="#f23645"/>
<rect x="348" y="508" width="3" height="26" fill="#f23645"/>
<rect x="353" y="527" width="1" height="10" fill="#089981"/>
<rect x="352" y="529" width="3" height="6" fill="#089981"/>
<rect x="356" y="517" width="1" height="20" fill="#089981"/>
<rect x="355" y="518" width="3" height="10" fill="#089981"/>
<rect x="359" y="490" width="1" height="27" fill="#089981"/>
<rect x="358" y="497" width="3" height="20" fill="#089981"/>
<rect x="363" y="486" width="1" height="15" fill="#089981"/>
<rect x="362" y="487" width="3" height="10" fill="#089981"/>
<rect x="366" y="477" width="1" height="14" fill="#f23645"/>
<rect x="365" y="487" width="3" height="4" fill="#f23645"/>
<rect x="368" y="460" width="3" height="31" fill="#089981"/>
<rect x="373" y="456" width="1" height="10" fill="#f23645"/>
<rect x="372" y="460" width="3" height="4" fill="#f23645"/>
<rect x="375" y="462" width="3" height="26" fill="#f23645"/>
<rect x="379" y="473" width="1" height="13" fill="#089981"/>
<rect x="378" y="477" width="3" height="9" fill="#089981"/>
<rect x="383" y="472" width="1" height="12" fill="#089981"/>
<rect x="382" y="472" width="3" height="7" fill="#089981"/>
<rect x="386" y="460" width="1" height="13" fill="#089981"/>
<rect x="385" y="467" width="3" height="6" fill="#089981"/>
<rect x="389" y="466" width="1" height="16" fill="#f23645"/>
<rect x="388" y="466" width="3" height="15" fill="#f23645"/>
<rect x="393" y="474" width="1" height="17" fill="#f23645"/>
<rect x="392" y="479" width="3" height="12" fill="#f23645"/>
<rect x="396" y="486" width="1" height="7" fill="#089981"/>
<rect x="395" y="487" width="3" height="2" fill="#089981"/>
<rect x="399" y="484" width="1" height="17" fill="#089981"/>
<rect x="398" y="484" width="3" height="4" fill="#089981"/>
<rect x="402" y="477" width="1" height="9" fill="#089981"/>
<rect x="401" y="483" width="3" height="1" fill="#089981"/>
<rect x="406" y="482" width="1" height="14" fill="#f23645"/>
<rect x="405" y="485" width="3" height="11" fill="#f23645"/>
<rect x="409" y="492" width="1" height="18" fill="#f23645"/>
<rect x="408" y="494" width="3" height="15" fill="#f23645"/>
<rect x="412" y="507" width="1" height="14" fill="#f23645"/>
<rect x="411" y="507" width="3" height="5" fill="#f23645"/>
<rect x="416" y="506" width="1" height="8" fill="#089981"/>
<rect x="415" y="506" width="3" height="5" fill="#089981"/>
<rect x="419" y="495" width="1" height="18" fill="#089981"/>
<rect x="418" y="495" width="3" height="10" fill="#089981"/>
<rect x="422" y="495" width="1" height="17" fill="#f23645"/>
<rect x="421" y="495" width="3" height="8" fill="#f23645"/>
<rect x="426" y="503" width="1" height="11" fill="#f23645"/>
<rect x="425" y="503" width="3" height="4" fill="#f23645"/>
<rect x="429" y="492" width="1" height="15" fill="#089981"/>
<rect x="428" y="499" width="3" height="8" fill="#089981"/>
<rect x="432" y="473" width="1" height="27" fill="#089981"/>
<rect x="431" y="476" width="3" height="24" fill="#089981"/>
<rect x="436" y="460" width="1" height="19" fill="#089981"/>
<rect x="435" y="463" width="3" height="16" fill="#089981"/>
<rect x="439" y="460" width="1" height="7" fill="#f23645"/>
<rect x="438" y="463" width="3" height="4" fill="#f23645"/>
<rect x="442" y="458" width="1" height="9" fill="#089981"/>
<rect x="441" y="464" width="3" height="3" fill="#089981"/>
<rect x="446" y="453" width="1" height="11" fill="#089981"/>
<rect x="445" y="456" width="3" height="8" fill="#089981"/>
<rect x="449" y="452" width="1" height="8" fill="#f23645"/>
<rect x="448" y="455" width="3" height="1" fill="#f23645"/>
<rect x="452" y="446" width="1" height="11" fill="#f23645"/>
<rect x="451" y="456" width="3" height="1" fill="#f23645"/>
<rect x="455" y="453" width="1" height="5" fill="#f23645"/>
<rect x="454" y="457" width="3" height="1" fill="#f23645"/>
<rect x="459" y="456" width="1" height="17" fill="#f23645"/>
<rect x="458" y="457" width="3" height="16" fill="#f23645"/>
<rect x="461" y="469" width="3" height="13" fill="#f23645"/>
<rect x="465" y="476" width="1" height="13" fill="#f23645"/>
<rect x="464" y="480" width="3" height="9" fill="#f23645"/>
<rect x="469" y="487" width="1" height="35" fill="#f23645"/>
<rect x="468" y="489" width="3" height="33" fill="#f23645"/>
<rect x="472" y="511" width="1" height="20" fill="#089981"/>
<rect x="471" y="518" width="3" height="2" fill="#089981"/>
<rect x="475" y="513" width="1" height="13" fill="#089981"/>
<rect x="474" y="513" width="3" height="4" fill="#089981"/>
<rect x="479" y="488" width="1" height="26" fill="#089981"/>
<rect x="478" y="489" width="3" height="25" fill="#089981"/>
<rect x="482" y="486" width="1" height="11" fill="#f23645"/>
<rect x="481" y="488" width="3" height="7" fill="#f23645"/>
<rect x="484" y="472" width="3" height="22" fill="#089981"/>
<rect x="488" y="457" width="3" height="16" fill="#089981"/>
<rect x="492" y="447" width="1" height="14" fill="#f23645"/>
<rect x="491" y="458" width="3" height="3" fill="#f23645"/>
<rect x="495" y="461" width="1" height="12" fill="#f23645"/>
<rect x="494" y="461" width="3" height="8" fill="#f23645"/>
<rect x="499" y="467" width="1" height="14" fill="#f23645"/>
<rect x="498" y="467" width="3" height="11" fill="#f23645"/>
<rect x="502" y="477" width="1" height="27" fill="#f23645"/>
<rect x="501" y="477" width="3" height="25" fill="#f23645"/>
<rect x="505" y="500" width="1" height="14" fill="#f23645"/>
<rect x="504" y="500" width="3" height="12" fill="#f23645"/>
<rect x="507" y="490" width="3" height="22" fill="#089981"/>
<rect x="512" y="488" width="1" height="11" fill="#f23645"/>
<rect x="511" y="489" width="3" height="10" fill="#f23645"/>
<rect x="515" y="491" width="1" height="11" fill="#089981"/>
<rect x="514" y="493" width="3" height="5" fill="#089981"/>
<rect x="518" y="493" width="1" height="21" fill="#f23645"/>
<rect x="517" y="493" width="3" height="18" fill="#f23645"/>
<rect x="522" y="472" width="1" height="38" fill="#089981"/>
<rect x="521" y="481" width="3" height="29" fill="#089981"/>
<rect x="525" y="473" width="1" height="16" fill="#089981"/>
<rect x="524" y="473" width="3" height="9" fill="#089981"/>
<rect x="528" y="463" width="1" height="10" fill="#089981"/>
<rect x="527" y="465" width="3" height="8" fill="#089981"/>
<rect x="532" y="464" width="1" height="9" fill="#f23645"/>
<rect x="531" y="465" width="3" height="8" fill="#f23645"/>
<rect x="535" y="467" width="1" height="10" fill="#f23645"/>
<rect x="534" y="471" width="3" height="6" fill="#f23645"/>
<rect x="537" y="471" width="3" height="6" fill="#089981"/>
<rect x="541" y="452" width="3" height="20" fill="#089981"/>
<rect x="545" y="444" width="1" height="10" fill="#089981"/>
<rect x="544" y="445" width="3" height="9" fill="#089981"/>
<rect x="548" y="446" width="1" height="6" fill="#f23645"/>
<rect x="547" y="446" width="3" height="3" fill="#f23645"/>
<rect x="551" y="446" width="3" height="3" fill="#089981"/>
<rect x="555" y="436" width="1" height="19" fill="#f23645"/>
<rect x="554" y="444" width="3" height="11" fill="#f23645"/>
<rect x="558" y="455" width="1" height="14" fill="#f23645"/>
<rect x="557" y="455" width="3" height="6" fill="#f23645"/>
<rect x="561" y="450" width="1" height="10" fill="#089981"/>
<rect x="560" y="451" width="3" height="9" fill="#089981"/>
<rect x="564" y="438" width="3" height="13" fill="#089981"/>
<rect x="568" y="430" width="1" height="9" fill="#089981"/>
<rect x="567" y="431" width="3" height="6" fill="#089981"/>
<rect x="571" y="431" width="1" height="16" fill="#f23645"/>
<rect x="570" y="431" width="3" height="13" fill="#f23645"/>
<rect x="575" y="438" width="1" height="10" fill="#f23645"/>
<rect x="574" y="444" width="3" height="4" fill="#f23645"/>
<rect x="578" y="441" width="1" height="11" fill="#089981"/>
<rect x="577" y="442" width="3" height="6" fill="#089981"/>
<rect x="581" y="439" width="1" height="5" fill="#f23645"/>
<rect x="580" y="440" width="3" height="4" fill="#f23645"/>
<rect x="585" y="443" width="1" height="25" fill="#f23645"/>
<rect x="584" y="443" width="3" height="23" fill="#f23645"/>
<rect x="587" y="450" width="3" height="15" fill="#089981"/>
<rect x="591" y="439" width="1" height="11" fill="#089981"/>
<rect x="590" y="440" width="3" height="10" fill="#089981"/>
<rect x="595" y="434" width="1" height="7" fill="#089981"/>
<rect x="594" y="437" width="3" height="4" fill="#089981"/>
<rect x="598" y="417" width="1" height="21" fill="#089981"/>
<rect x="597" y="419" width="3" height="19" fill="#089981"/>
<rect x="601" y="421" width="1" height="13" fill="#f23645"/>
<rect x="600" y="421" width="3" height="10" fill="#f23645"/>
<rect x="605" y="425" width="1" height="9" fill="#f23645"/>
<rect x="604" y="429" width="3" height="1" fill="#f23645"/>
<rect x="608" y="431" width="1" height="5" fill="#f23645"/>
<rect x="607" y="431" width="3" height="3" fill="#f23645"/>
<rect x="610" y="426" width="3" height="7" fill="#089981"/>
<rect x="614" y="422" width="1" height="10" fill="#f23645"/>
<rect x="613" y="427" width="3" height="2" fill="#f23645"/>
<rect x="618" y="423" width="1" height="7" fill="#089981"/>
<rect x="617" y="427" width="3" height="3" fill="#089981"/>
<rect x="621" y="420" width="1" height="8" fill="#089981"/>
<rect x="620" y="422" width="3" height="6" fill="#089981"/>
<rect x="624" y="418" width="1" height="8" fill="#089981"/>
<rect x="623" y="418" width="3" height="6" fill="#089981"/>
<rect x="628" y="395" width="1" height="24" fill="#089981"/>
<rect x="627" y="402" width="3" height="17" fill="#089981"/>
<rect x="631" y="396" width="1" height="11" fill="#f23645"/>
<rect x="630" y="402" width="3" height="5" fill="#f23645"/>
<rect x="634" y="406" width="1" height="25" fill="#f23645"/>
<rect x="633" y="406" width="3" height="24" fill="#f23645"/>
<rect x="638" y="427" width="1" height="11" fill="#f23645"/>
<rect x="637" y="427" width="3" height="8" fill="#f23645"/>
<rect x="641" y="420" width="1" height="13" fill="#089981"/>
<rect x="640" y="422" width="3" height="10" fill="#089981"/>
<rect x="644" y="418" width="1" height="7" fill="#089981"/>
<rect x="643" y="419" width="3" height="3" fill="#089981"/>
<rect x="648" y="418" width="1" height="13" fill="#f23645"/>
<rect x="647" y="418" width="3" height="12" fill="#f23645"/>
<rect x="651" y="417" width="1" height="12" fill="#089981"/>
<rect x="650" y="419" width="3" height="10" fill="#089981"/>
<rect x="654" y="413" width="1" height="7" fill="#089981"/>
<rect x="653" y="419" width="3" height="1" fill="#089981"/>
<rect x="658" y="416" width="1" height="6" fill="#089981"/>
<rect x="657" y="416" width="3" height="5" fill="#089981"/>
<rect x="661" y="405" width="1" height="11" fill="#089981"/>
<rect x="660" y="406" width="3" height="10" fill="#089981"/>
<rect x="664" y="396" width="1" height="10" fill="#089981"/>
<rect x="663" y="401" width="3" height="5" fill="#089981"/>
<rect x="667" y="396" width="3" height="6" fill="#089981"/>
<rect x="670" y="396" width="3" height="11" fill="#f23645"/>
<rect x="674" y="399" width="1" height="10" fill="#f23645"/>
<rect x="673" y="406" width="3" height="3" fill="#f23645"/>
<rect x="676" y="406" width="3" height="3" fill="#089981"/>
<rect x="681" y="393" width="1" height="13" fill="#089981"/>
<rect x="680" y="397" width="3" height="9" fill="#089981"/>
<rect x="684" y="384" width="1" height="15" fill="#089981"/>
<rect x="683" y="391" width="3" height="8" fill="#089981"/>
<rect x="687" y="390" width="1" height="17" fill="#f23645"/>
<rect x="686" y="390" width="3" height="6" fill="#f23645"/>
<rect x="691" y="388" width="1" height="7" fill="#089981"/>
<rect x="690" y="394" width="3" height="1" fill="#089981"/>
<rect x="694" y="384" width="1" height="10" fill="#089981"/>
<rect x="693" y="392" width="3" height="2" fill="#089981"/>
<rect x="697" y="388" width="1" height="21" fill="#f23645"/>
<rect x="696" y="393" width="3" height="16" fill="#f23645"/>
<rect x="700" y="408" width="3" height="27" fill="#f23645"/>
<rect x="704" y="403" width="1" height="41" fill="#089981"/>
<rect x="703" y="404" width="3" height="31" fill="#089981"/>
<rect x="707" y="355" width="1" height="41" fill="#089981"/>
<rect x="706" y="364" width="3" height="32" fill="#089981"/>
<rect x="711" y="326" width="1" height="45" fill="#089981"/>
<rect x="710" y="326" width="3" height="36" fill="#089981"/>
<rect x="714" y="315" width="1" height="46" fill="#f23645"/>
<rect x="713" y="327" width="3" height="34" fill="#f23645"/>
<rect x="717" y="354" width="1" height="17" fill="#089981"/>
<rect x="716" y="358" width="3" height="3" fill="#089981"/>
<rect x="721" y="353" width="1" height="33" fill="#f23645"/>
<rect x="720" y="355" width="3" height="31" fill="#f23645"/>
<rect x="724" y="370" width="1" height="16" fill="#089981"/>
<rect x="723" y="382" width="3" height="4" fill="#089981"/>
<rect x="727" y="381" width="1" height="15" fill="#f23645"/>
<rect x="726" y="381" width="3" height="14" fill="#f23645"/>
<rect x="729" y="394" width="3" height="40" fill="#f23645"/>
<rect x="734" y="426" width="1" height="41" fill="#f23645"/>
<rect x="733" y="433" width="3" height="29" fill="#f23645"/>
<rect x="737" y="449" width="1" height="21" fill="#089981"/>
<rect x="736" y="451" width="3" height="10" fill="#089981"/>
<rect x="740" y="419" width="1" height="36" fill="#089981"/>
<rect x="739" y="420" width="3" height="32" fill="#089981"/>
<rect x="744" y="420" width="1" height="11" fill="#f23645"/>
<rect x="743" y="420" width="3" height="6" fill="#f23645"/>
<rect x="747" y="414" width="1" height="22" fill="#089981"/>
<rect x="746" y="417" width="3" height="9" fill="#089981"/>
<rect x="749" y="388" width="3" height="31" fill="#089981"/>
<rect x="754" y="382" width="1" height="16" fill="#f23645"/>
<rect x="753" y="387" width="3" height="11" fill="#f23645"/>
<rect x="757" y="395" width="1" height="5" fill="#f23645"/>
<rect x="756" y="397" width="3" height="2" fill="#f23645"/>
<rect x="760" y="395" width="1" height="8" fill="#f23645"/>
<rect x="759" y="397" width="3" height="5" fill="#f23645"/>
<rect x="764" y="398" width="1" height="20" fill="#f23645"/>
<rect x="763" y="400" width="3" height="18" fill="#f23645"/>
<rect x="767" y="410" width="1" height="24" fill="#f23645"/>
<rect x="766" y="416" width="3" height="18" fill="#f23645"/>
<rect x="770" y="422" width="1" height="21" fill="#089981"/>
<rect x="769" y="426" width="3" height="6" fill="#089981"/>
<rect x="774" y="409" width="1" height="21" fill="#089981"/>
<rect x="773" y="412" width="3" height="15" fill="#089981"/>
<rect x="776" y="392" width="3" height="20" fill="#089981"/>
<rect x="780" y="383" width="1" height="9" fill="#089981"/>
<rect x="779" y="386" width="3" height="6" fill="#089981"/>
<rect x="783" y="383" width="1" height="14" fill="#f23645"/>
<rect x="782" y="385" width="3" height="3" fill="#f23645"/>
<rect x="787" y="386" width="1" height="19" fill="#f23645"/>
<rect x="786" y="386" width="3" height="8" fill="#f23645"/>
<rect x="790" y="389" width="1" height="10" fill="#f23645"/>
<rect x="789" y="392" width="3" height="2" fill="#f23645"/>
<rect x="793" y="393" width="1" height="18" fill="#f23645"/>
<rect x="792" y="393" width="3" height="17" fill="#f23645"/>
<rect x="797" y="397" width="1" height="16" fill="#089981"/>
<rect x="796" y="398" width="3" height="12" fill="#089981"/>
<rect x="800" y="394" width="1" height="10" fill="#089981"/>
<rect x="799" y="394" width="3" height="3" fill="#089981"/>
<rect x="802" y="369" width="3" height="24" fill="#089981"/>
<rect x="807" y="365" width="1" height="9" fill="#f23645"/>
<rect x="806" y="370" width="3" height="2" fill="#f23645"/>
<rect x="810" y="356" width="1" height="18" fill="#089981"/>
<rect x="809" y="358" width="3" height="14" fill="#089981"/>
<rect x="813" y="356" width="1" height="23" fill="#f23645"/>
<rect x="812" y="357" width="3" height="22" fill="#f23645"/>
<rect x="817" y="370" width="1" height="28" fill="#f23645"/>
<rect x="816" y="376" width="3" height="22" fill="#f23645"/>
<rect x="820" y="398" width="1" height="14" fill="#f23645"/>
<rect x="819" y="398" width="3" height="2" fill="#f23645"/>
<rect x="822" y="382" width="3" height="17" fill="#089981"/>
<rect x="827" y="377" width="1" height="8" fill="#089981"/>
<rect x="826" y="379" width="3" height="4" fill="#089981"/>
<rect x="830" y="371" width="1" height="8" fill="#089981"/>
<rect x="829" y="374" width="3" height="5" fill="#089981"/>
<rect x="833" y="367" width="1" height="8" fill="#089981"/>
<rect x="832" y="371" width="3" height="4" fill="#089981"/>
<rect x="836" y="363" width="1" height="9" fill="#089981"/>
<rect x="835" y="364" width="3" height="8" fill="#089981"/>
<rect x="839" y="364" width="3" height="18" fill="#f23645"/>
<rect x="843" y="372" width="1" height="13" fill="#089981"/>
<rect x="842" y="374" width="3" height="8" fill="#089981"/>
<rect x="846" y="360" width="1" height="16" fill="#089981"/>
<rect x="845" y="360" width="3" height="14" fill="#089981"/>
<rect x="850" y="357" width="1" height="9" fill="#089981"/>
<rect x="849" y="363" width="3" height="1" fill="#089981"/>
<rect x="853" y="360" width="1" height="15" fill="#f23645"/>
<rect x="852" y="362" width="3" height="13" fill="#f23645"/>
<rect x="856" y="367" width="1" height="10" fill="#089981"/>
<rect x="855" y="367" width="3" height="8" fill="#089981"/>
<rect x="860" y="352" width="1" height="16" fill="#089981"/>
<rect x="859" y="353" width="3" height="15" fill="#089981"/>
<rect x="863" y="339" width="1" height="16" fill="#089981"/>
<rect x="862" y="341" width="3" height="12" fill="#089981"/>
<rect x="865" y="341" width="3" height="10" fill="#f23645"/>
<rect x="870" y="342" width="1" height="9" fill="#089981"/>
<rect x="869" y="347" width="3" height="4" fill="#089981"/>
<rect x="873" y="337" width="1" height="11" fill="#089981"/>
<rect x="872" y="338" width="3" height="10" fill="#089981"/>
<rect x="876" y="330" width="1" height="13" fill="#089981"/>
<rect x="875" y="333" width="3" height="7" fill="#089981"/>
<rect x="880" y="332" width="1" height="9" fill="#089981"/>
<rect x="879" y="332" width="3" height="1" fill="#089981"/>
<rect x="883" y="322" width="1" height="11" fill="#089981"/>
<rect x="882" y="327" width="3" height="6" fill="#089981"/>
<rect x="885" y="328" width="3" height="7" fill="#f23645"/>
<rect x="889" y="332" width="1" height="5" fill="#f23645"/>
<rect x="888" y="334" width="3" height="3" fill="#f23645"/>
<rect x="893" y="331" width="1" height="9" fill="#089981"/>
<rect x="892" y="334" width="3" height="3" fill="#089981"/>
<rect x="896" y="330" width="1" height="12" fill="#f23645"/>
<rect x="895" y="333" width="3" height="7" fill="#f23645"/>
<rect x="899" y="326" width="1" height="13" fill="#089981"/>
<rect x="898" y="327" width="3" height="12" fill="#089981"/>
<rect x="903" y="320" width="1" height="8" fill="#f23645"/>
<rect x="902" y="327" width="3" height="1" fill="#f23645"/>
<rect x="906" y="320" width="1" height="9" fill="#089981"/>
<rect x="905" y="320" width="3" height="8" fill="#089981"/>
<rect x="909" y="313" width="1" height="8" fill="#089981"/>
<rect x="908" y="314" width="3" height="7" fill="#089981"/>
<rect x="913" y="305" width="1" height="11" fill="#f23645"/>
<rect x="912" y="314" width="3" height="2" fill="#f23645"/>
<rect x="916" y="315" width="1" height="6" fill="#f23645"/>
<rect x="915" y="315" width="3" height="3" fill="#f23645"/>
<rect x="919" y="310" width="1" height="10" fill="#089981"/>
<rect x="918" y="312" width="3" height="7" fill="#089981"/>
<rect x="922" y="312" width="3" height="14" fill="#f23645"/>
<rect x="925" y="317" width="3" height="8" fill="#089981"/>
<rect x="929" y="306" width="1" height="14" fill="#089981"/>
<rect x="928" y="308" width="3" height="9" fill="#089981"/>
<rect x="933" y="291" width="1" height="18" fill="#089981"/>
<rect x="932" y="293" width="3" height="16" fill="#089981"/>
<rect x="936" y="268" width="1" height="25" fill="#089981"/>
<rect x="935" y="270" width="3" height="23" fill="#089981"/>
<rect x="939" y="193" width="1" height="77" fill="#089981"/>
<rect x="938" y="210" width="3" height="60" fill="#089981"/>
<rect x="942" y="203" width="1" height="38" fill="#f23645"/>
<rect x="941" y="209" width="3" height="32" fill="#f23645"/>
<rect x="945" y="223" width="3" height="18" fill="#089981"/>
<rect x="949" y="207" width="1" height="16" fill="#089981"/>
<rect x="948" y="212" width="3" height="11" fill="#089981"/>
<rect x="951" y="212" width="3" height="23" fill="#f23645"/>
<rect x="955" y="216" width="3" height="20" fill="#089981"/>
<rect x="959" y="194" width="1" height="24" fill="#089981"/>
<rect x="958" y="200" width="3" height="18" fill="#089981"/>
<rect x="961" y="200" width="3" height="7" fill="#f23645"/>
<rect x="965" y="206" width="3" height="17" fill="#f23645"/>
<rect x="969" y="217" width="1" height="9" fill="#089981"/>
<rect x="968" y="220" width="3" height="3" fill="#089981"/>
<rect x="972" y="207" width="1" height="18" fill="#089981"/>
<rect x="971" y="209" width="3" height="12" fill="#089981"/>
<rect x="975" y="195" width="3" height="15" fill="#089981"/>
<rect x="979" y="169" width="1" height="26" fill="#089981"/>
<rect x="978" y="172" width="3" height="23" fill="#089981"/>
<rect x="982" y="167" width="1" height="20" fill="#f23645"/>
<rect x="981" y="173" width="3" height="14" fill="#f23645"/>
<rect x="986" y="186" width="1" height="29" fill="#f23645"/>
<rect x="985" y="186" width="3" height="20" fill="#f23645"/>
<rect x="989" y="190" width="1" height="16" fill="#089981"/>
<rect x="988" y="191" width="3" height="14" fill="#089981"/>
<rect x="992" y="189" width="1" height="15" fill="#f23645"/>
<rect x="991" y="192" width="3" height="12" fill="#f23645"/>
<rect x="995" y="190" width="1" height="13" fill="#089981"/>
<rect x="994" y="194" width="3" height="9" fill="#089981"/>
<rect x="999" y="174" width="1" height="20" fill="#089981"/>
<rect x="998" y="176" width="3" height="18" fill="#089981"/>
<rect x="1002" y="172" width="1" height="12" fill="#f23645"/>
<rect x="1001" y="176" width="3" height="8" fill="#f23645"/>
<rect x="1005" y="181" width="1" height="8" fill="#f23645"/>
<rect x="1004" y="186" width="3" height="3" fill="#f23645"/>
<rect x="1009" y="181" width="1" height="8" fill="#089981"/>
<rect x="1008" y="186" width="3" height="3" fill="#089981"/>
<rect x="1012" y="176" width="1" height="13" fill="#089981"/>
<rect x="1011" y="183" width="3" height="6" fill="#089981"/>
<rect x="1015" y="179" width="1" height="22" fill="#f23645"/>
<rect x="1014" y="182" width="3" height="19" fill="#f23645"/>
<rect x="1019" y="197" width="1" height="12" fill="#f23645"/>
<rect x="1018" y="201" width="3" height="8" fill="#f23645"/>
<rect x="1021" y="208" width="3" height="8" fill="#f23645"/>
<rect x="1025" y="197" width="1" height="19" fill="#089981"/>
<rect x="1024" y="201" width="3" height="15" fill="#089981"/>
<rect x="1029" y="188" width="1" height="13" fill="#089981"/>
<rect x="1028" y="191" width="3" height="10" fill="#089981"/>
<rect x="1032" y="187" width="1" height="10" fill="#f23645"/>
<rect x="1031" y="191" width="3" height="6" fill="#f23645"/>
<rect x="1035" y="188" width="1" height="9" fill="#089981"/>
<rect x="1034" y="191" width="3" height="6" fill="#089981"/>
<rect x="1039" y="188" width="1" height="15" fill="#f23645"/>
<rect x="1038" y="190" width="3" height="10" fill="#f23645"/>
<rect x="1041" y="183" width="3" height="17" fill="#089981"/>
<rect x="1044" y="173" width="3" height="10" fill="#089981"/>
<rect x="1048" y="163" width="1" height="12" fill="#089981"/>
<rect x="1047" y="171" width="3" height="3" fill="#089981"/>
<rect x="1052" y="160" width="1" height="14" fill="#089981"/>
<rect x="1051" y="161" width="3" height="11" fill="#089981"/>
<rect x="1055" y="146" width="1" height="16" fill="#089981"/>
<rect x="1054" y="153" width="3" height="9" fill="#089981"/>
<rect x="1058" y="151" width="1" height="15" fill="#f23645"/>
<rect x="1057" y="153" width="3" height="13" fill="#f23645"/>
<rect x="1062" y="142" width="1" height="24" fill="#089981"/>
<rect x="1061" y="144" width="3" height="22" fill="#089981"/>
<rect x="1064" y="123" width="3" height="21" fill="#089981"/>
<rect x="1068" y="100" width="1" height="25" fill="#089981"/>
<rect x="1067" y="104" width="3" height="21" fill="#089981"/>
<rect x="1072" y="105" width="1" height="15" fill="#f23645"/>
<rect x="1071" y="106" width="3" height="14" fill="#f23645"/>
<rect x="1075" y="119" width="1" height="8" fill="#089981"/>
<rect x="1074" y="119" width="3" height="2" fill="#089981"/>
<rect x="1078" y="102" width="1" height="17" fill="#089981"/>
<rect x="1077" y="103" width="3" height="16" fill="#089981"/>
<rect x="1082" y="94" width="1" height="9" fill="#f23645"/>
<rect x="1081" y="102" width="3" height="1" fill="#f23645"/>
<rect x="1084" y="105" width="3" height="9" fill="#f23645"/>
<rect x="1087" y="107" width="3" height="7" fill="#089981"/>
<rect x="1092" y="92" width="1" height="14" fill="#089981"/>
<rect x="1091" y="93" width="3" height="13" fill="#089981"/>
<rect x="1095" y="86" width="1" height="32" fill="#f23645"/>
<rect x="1094" y="92" width="3" height="26" fill="#f23645"/>
<rect x="1097" y="116" width="3" height="17" fill="#f23645"/>
<rect x="1101" y="127" width="1" height="14" fill="#089981"/>
<rect x="1100" y="129" width="3" height="4" fill="#089981"/>
<rect x="1104" y="110" width="3" height="19" fill="#089981"/>
<rect x="1107" y="102" width="3" height="10" fill="#089981"/>
<rect x="1111" y="97" width="1" height="22" fill="#f23645"/>
<rect x="1110" y="101" width="3" height="14" fill="#f23645"/>
<rect x="1115" y="97" width="1" height="19" fill="#089981"/>
<rect x="1114" y="99" width="3" height="15" fill="#089981"/>
<rect x="1118" y="96" width="1" height="11" fill="#f23645"/>
<rect x="1117" y="100" width="3" height="1" fill="#f23645"/>
<rect x="1121" y="70" width="1" height="32" fill="#089981"/>
<rect x="1120" y="80" width="3" height="22" fill="#089981"/>
<rect x="1125" y="77" width="1" height="7" fill="#089981"/>
<rect x="1124" y="80" width="3" height="1" fill="#089981"/>
<rect x="1127" y="78" width="3" height="15" fill="#f23645"/>
<rect x="1131" y="91" width="1" height="12" fill="#f23645"/>
<rect x="1130" y="92" width="3" height="7" fill="#f23645"/>
<rect x="1135" y="97" width="1" height="15" fill="#f23645"/>
<rect x="1134" y="97" width="3" height="14" fill="#f23645"/>
<rect x="1138" y="92" width="1" height="23" fill="#089981"/>
<rect x="1137" y="92" width="3" height="19" fill="#089981"/>
<rect x="1141" y="89" width="1" height="78" fill="#f23645"/>
<rect x="1140" y="91" width="3" height="56" fill="#f23645"/>
<rect x="1145" y="136" width="1" height="44" fill="#f23645"/>
<rect x="1144" y="144" width="3" height="8" fill="#f23645"/>
<rect x="1148" y="121" width="1" height="31" fill="#089981"/>
<rect x="1147" y="130" width="3" height="21" fill="#089981"/>
<rect x="1151" y="126" width="1" height="24" fill="#f23645"/>
<rect x="1150" y="129" width="3" height="21" fill="#f23645"/>
<rect x="1154" y="147" width="1" height="10" fill="#f23645"/>
<rect x="1153" y="151" width="3" height="1" fill="#f23645"/>
<rect x="1158" y="148" width="1" height="32" fill="#f23645"/>
<rect x="1157" y="150" width="3" height="28" fill="#f23645"/>
<rect x="1161" y="162" width="1" height="29" fill="#f23645"/>
<rect x="1160" y="176" width="3" height="15" fill="#f23645"/>
<rect x="1164" y="184" width="1" height="76" fill="#f23645"/>
<rect x="1163" y="188" width="3" height="60" fill="#f23645"/>
<rect x="1168" y="217" width="1" height="32" fill="#089981"/>
<rect x="1167" y="223" width="3" height="26" fill="#089981"/>
<rect x="1170" y="222" width="3" height="41" fill="#f23645"/>
<rect x="1173" y="262" width="3" height="35" fill="#f23645"/>
<rect x="1178" y="259" width="1" height="42" fill="#089981"/>
<rect x="1177" y="259" width="3" height="37" fill="#089981"/>
<rect x="1181" y="221" width="1" height="44" fill="#089981"/>
<rect x="1180" y="226" width="3" height="34" fill="#089981"/>
<rect x="1184" y="225" width="1" height="21" fill="#f23645"/>
<rect x="1183" y="225" width="3" height="12" fill="#f23645"/>
<rect x="1188" y="234" width="1" height="29" fill="#f23645"/>
<rect x="1187" y="237" width="3" height="24" fill="#f23645"/>
<rect x="1191" y="246" width="1" height="13" fill="#089981"/>
<rect x="1190" y="256" width="3" height="2" fill="#089981"/>
<rect x="1194" y="255" width="1" height="25" fill="#f23645"/>
<rect x="1193" y="255" width="3" height="3" fill="#f23645"/>
<rect x="1198" y="226" width="1" height="32" fill="#089981"/>
<rect x="1197" y="229" width="3" height="28" fill="#089981"/>
<rect x="1201" y="231" width="1" height="8" fill="#f23645"/>
<rect x="1200" y="231" width="3" height="4" fill="#f23645"/>
<rect x="1204" y="203" width="1" height="37" fill="#089981"/>
<rect x="1203" y="207" width="3" height="26" fill="#089981"/>
<rect x="1206" y="207" width="3" height="15" fill="#f23645"/>
<rect x="1211" y="214" width="1" height="17" fill="#f23645"/>
<rect x="1210" y="220" width="3" height="11" fill="#f23645"/>
<rect x="1214" y="223" width="1" height="31" fill="#f23645"/>
<rect x="1213" y="229" width="3" height="25" fill="#f23645"/>
<rect x="1217" y="237" width="1" height="21" fill="#089981"/>
<rect x="1216" y="245" width="3" height="7" fill="#089981"/>
<rect x="1221" y="218" width="1" height="27" fill="#089981"/>
<rect x="1220" y="219" width="3" height="26" fill="#089981"/>
<rect x="1224" y="219" width="1" height="24" fill="#f23645"/>
<rect x="1223" y="219" width="3" height="22" fill="#f23645"/>
<rect x="1227" y="232" width="1" height="29" fill="#f23645"/>
<rect x="1226" y="237" width="3" height="21" fill="#f23645"/>
<rect x="1231" y="251" width="1" height="41" fill="#f23645"/>
<rect x="1230" y="251" width="3" height="39" fill="#f23645"/>
<rect x="1234" y="278" width="1" height="17" fill="#089981"/>
<rect x="1233" y="283" width="3" height="4" fill="#089981"/>
<rect x="1237" y="280" width="1" height="38" fill="#f23645"/>
<rect x="1236" y="283" width="3" height="25" fill="#f23645"/>
<rect x="1241" y="298" width="1" height="15" fill="#f23645"/>
<rect x="1240" y="307" width="3" height="1" fill="#f23645"/>
<rect x="1244" y="285" width="1" height="35" fill="#089981"/>
<rect x="1243" y="286" width="3" height="22" fill="#089981"/>
<rect x="1247" y="283" width="1" height="29" fill="#f23645"/>
<rect x="1246" y="283" width="3" height="21" fill="#f23645"/>
<rect x="1251" y="285" width="1" height="30" fill="#f23645"/>
<rect x="1250" y="304" width="3" height="11" fill="#f23645"/>
<rect x="1254" y="308" width="1" height="40" fill="#089981"/>
<rect x="1253" y="335" width="3" height="7" fill="#089981"/>
<rect x="1256" y="335" width="3" height="34" fill="#f23645"/>
<rect x="1260" y="367" width="1" height="44" fill="#089981"/>
<rect x="1259" y="367" width="3" height="22" fill="#089981"/>
<rect x="1264" y="345" width="1" height="49" fill="#089981"/>
<rect x="1263" y="346" width="3" height="25" fill="#089981"/>
<rect x="1267" y="325" width="1" height="37" fill="#f23645"/>
<rect x="1266" y="342" width="3" height="3" fill="#f23645"/>
<rect x="1270" y="307" width="1" height="41" fill="#089981"/>
<rect x="1269" y="311" width="3" height="34" fill="#089981"/>
<rect x="1274" y="259" width="1" height="63" fill="#089981"/>
<rect x="1273" y="259" width="3" height="55" fill="#089981"/>
<rect x="1276" y="236" width="3" height="21" fill="#f23645"/>
<rect x="1280" y="251" width="1" height="20" fill="#089981"/>
<rect x="1279" y="251" width="3" height="6" fill="#089981"/>
<rect x="1284" y="240" width="1" height="17" fill="#089981"/>
<rect x="1283" y="241" width="3" height="3" fill="#089981"/>
<rect x="1287" y="201" width="1" height="43" fill="#089981"/>
<rect x="1286" y="203" width="3" height="37" fill="#089981"/>
<rect x="1290" y="163" width="1" height="67" fill="#089981"/>
<rect x="1289" y="168" width="3" height="31" fill="#089981"/>
<rect x="1293" y="188" width="3" height="15" fill="#089981"/>
<rect x="1296" y="188" width="3" height="1" fill="#089981"/>
<rect x="1299" y="188" width="3" height="1" fill="#089981"/>
</svg>
<div id="txt">
<!-- price axis -->
<div class="pl" style="top:-7.4px">4795.00</div>
<div class="pl" style="top:32.7px">4792.50</div>
<div class="pl" style="top:72.8px">4790.00</div>
<div class="pl" style="top:112.9px">4787.50</div>
<div class="pl" style="top:153.0px">4785.00</div>
<div class="pl" style="top:193.1px">4782.50</div>
<div class="pl" style="top:233.2px">4780.00</div>
<div class="pl" style="top:273.3px">4777.50</div>
<div class="pl" style="top:313.4px">4775.00</div>
<div class="pl" style="top:353.5px">4772.50</div>
<div class="pl" style="top:393.6px">4770.00</div>
<div class="pl" style="top:433.7px">4767.50</div>
<div class="pl" style="top:473.8px">4765.00</div>
<div class="pl" style="top:513.9px">4762.50</div>
<div class="pl" style="top:554.0px">4760.00</div>
<div class="pl" style="top:594.1px">4757.50</div>
<div class="pl" style="top:634.2px">4755.00</div>
<div class="abs" style="left:1335px;top:178px;width:70px;height:21px;background:#089981;border-radius:0 3px 3px 0;"></div>
<div class="abs" id="lastp" style="left:1345px;top:178px;height:21px;line-height:21px;font-size:16.2px;transform:scaleX(0.904);transform-origin:0 50%;color:#fff;">4783.46</div>
<div class="abs" style="left:1335px;top:660px;width:73px;height:21px;background:#26a69a;border-radius:0 3px 3px 0;"></div>
<div class="abs" id="volp" style="left:1345.5px;top:660px;height:21px;line-height:21px;font-size:16.2px;transform:scaleX(0.87);transform-origin:0 50%;color:#fff;">12.316M</div>
<!-- time axis -->
<div class="tl" style="left:87.6px">15:05</div>
<div class="tl" style="left:269.6px">16:00</div>
<div class="tl" style="left:468.6px">17:00</div>
<div class="tl" style="left:666.6px">18:00</div>
<div class="tl" style="left:865.6px">19:00</div>
<div class="tl" style="left:1064.6px">20:00</div>
<div class="tl" style="left:1180.6px">20:35</div>
<div class="tl b" style="left:1.6px;width:auto;transform-origin:0 50%">0</div>
<div class="tl b" style="left:1296.0px">11</div>
<svg class="abs" style="left:1364px;top:690px" width="20" height="18" viewBox="0 0 20 18"><path d="M5.6 1.3h8.8l4.4 7.7-4.4 7.7H5.6L1.2 9z" fill="none" stroke="#131722" stroke-width="1.35" stroke-linejoin="round"/><circle cx="10" cy="9" r="2.5" fill="none" stroke="#131722" stroke-width="1.35"/></svg>
<!-- lightning -->
<svg class="abs" style="left:1286.8px;top:650.3px" width="28" height="28" viewBox="0 0 28 28"><circle cx="14" cy="14" r="12.1" fill="#fff" stroke="#9c27b0" stroke-width="2"/><path d="M18.8 7.2L8 15.1L13.9 14.6L9.8 21L20.6 13.1L14.6 13.6Z" fill="#9c27b0"/></svg>
<!-- legend -->
<div class="abs" style="left:11.1px;top:10.9px;width:22.9px;height:22.9px;border-radius:12px;background:#c8102e;"></div>
<div class="abs b" style="left:11.1px;top:10.7px;width:22.9px;height:22.9px;line-height:22.9px;text-align:center;font-size:11.2px;color:#fff;letter-spacing:-0.45px;text-indent:-0.4px">500</div>
<div class="abs" id="title" style="left:38.5px;top:11.5px;height:24px;line-height:24px;font-size:18.25px;">S&amp;P 500 Index · 1 · SP</div>
<div class="abs" style="left:253px;top:11px;width:50px;height:22px;border-radius:11px;overflow:hidden;background:#ebecee;"><div style="position:absolute;left:25px;top:0;width:25px;height:22px;background:#f8c4d6"></div></div>
<div class="abs" style="left:261px;top:20px;width:12px;height:4.5px;border-radius:2.2px;background:#8c8f9a"></div>
<div class="abs b" style="left:278px;top:10.3px;width:22px;height:24px;line-height:24px;text-align:center;font-size:21.5px;color:#e91e63;">≈</div>
<div class="ohlc" style="left:323.5px">O<span class="g">4783.46</span></div>
<div class="ohlc" style="left:400.3px">H<span class="g">4783.46</span></div>
<div class="ohlc" style="left:477px">L<span class="g">4783.43</span></div>
<div class="ohlc" style="left:550.6px">C<span class="g">4783.46</span></div>
<div class="ohlc g" style="left:627.3px;letter-spacing:-0.3px">+0.02</div>
<div class="ohlc g" style="left:672px;letter-spacing:-0.4px">(+0.00%)</div>
<div class="abs" style="left:10px;top:42px;width:75px;height:28px;border:1px solid #f23645;border-radius:4px;line-height:28px;text-align:center;font-size:15.3px;color:#f23645;"><span style="display:inline-block;font-size:16.3px;transform:scaleX(0.955)">4783.46</span></div>
<div class="abs" style="left:96.5px;top:47px;height:20px;line-height:20px;font-size:14.1px;">0.00</div>
<div class="abs" style="left:133px;top:42px;width:75px;height:28px;border:1px solid #2962ff;border-radius:4px;line-height:28px;text-align:center;font-size:15.3px;color:#2962ff;"><span style="display:inline-block;font-size:16.3px;transform:scaleX(0.955)">4783.46</span></div>
<div class="abs" style="left:11px;top:83px;height:20px;line-height:20px;font-size:15.3px;">Vol</div>
<div class="abs" style="left:43.8px;top:83px;height:20px;line-height:20px;font-size:15.3px;color:#26a69a;">12.316M</div>
<div class="abs" style="left:11px;top:110px;width:34px;height:23px;border:1px solid #d1d4dc;border-radius:3px;"></div>
<svg class="abs" style="left:21.3px;top:117.2px" width="14" height="10" viewBox="0 0 14 10"><path d="M2 7.3l5-4.6 5 4.6" fill="none" stroke="#131722" stroke-width="1.6"/></svg>
<!-- logo -->
<svg class="abs" style="left:15.1px;top:641.2px" width="39.1" height="28" viewBox="0 0 36.9 28" preserveAspectRatio="none"><path d="M14 22H7V11H0V4h14v18zM28 22h-8l7.5-18h8L28 22z" fill="#131722"/><circle cx="20" cy="8" r="4" fill="#131722"/></svg>
<div class="abs b" id="tvtext" style="left:61.2px;top:640px;height:30px;line-height:30px;font-size:24px;letter-spacing:0.9px;-webkit-text-stroke:0.2px #131722;color:#131722;">TradingView</div>
</div>
<div class="abs" style="left:0;top:0;width:1411px;height:2px;background:#e0e3eb"></div>
</body></html>
